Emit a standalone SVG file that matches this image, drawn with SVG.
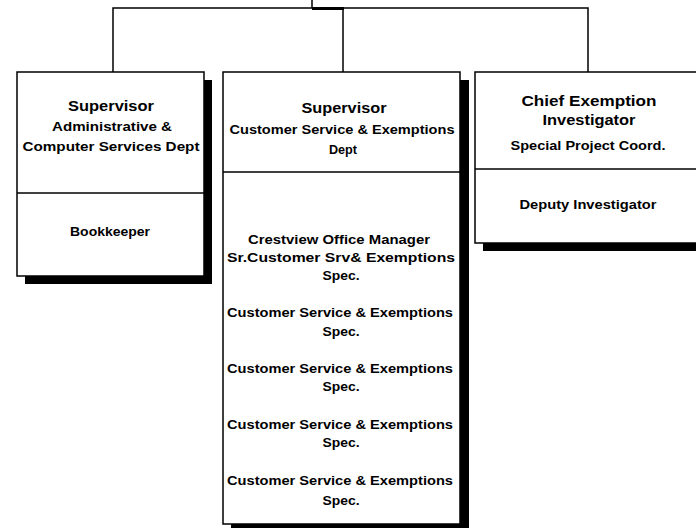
<svg xmlns="http://www.w3.org/2000/svg" width="696" height="528" viewBox="0 0 696 528">
<style>
.box{fill:#fff;stroke:#000;stroke-width:1.5}
.sh{fill:#000}
.div{stroke:#000;stroke-width:1.5}
.con{stroke:#000;stroke-width:1.5;fill:none}
.h{font-family:"Liberation Sans",Arial,sans-serif;font-weight:bold;font-size:15px;text-anchor:middle;fill:#000}
.t{font-family:"Liberation Sans",Arial,sans-serif;font-weight:bold;font-size:12px;text-anchor:middle;fill:#000}
</style>
<rect width="696" height="528" fill="#fff"/>
<g id="connectors">
<path class="con" d="M312 0V8M113 72V8H588V72M343 8V72"/>
<rect x="312" y="7" width="32" height="3" fill="#000"/>
</g>
<g id="left">
<rect class="sh" x="204" y="80" width="8" height="204"/>
<rect class="sh" x="25" y="276" width="187" height="8"/>
<rect class="box" x="17" y="72" width="187" height="204"/>
<line class="div" x1="17" y1="193" x2="204" y2="193"/>
<text class="h" x="111" y="111" textLength="86" lengthAdjust="spacingAndGlyphs">Supervisor</text>
<text class="t" x="112" y="131" textLength="120" lengthAdjust="spacingAndGlyphs">Administrative &amp;</text>
<text class="t" x="111" y="151" textLength="177" lengthAdjust="spacingAndGlyphs">Computer Services Dept</text>
<text class="t" x="110" y="236" textLength="80" lengthAdjust="spacingAndGlyphs">Bookkeeper</text>
</g>
<g id="middle">
<rect class="sh" x="460" y="80" width="9" height="452"/>
<rect class="sh" x="231" y="524" width="238" height="8"/>
<rect class="box" x="223" y="72" width="237" height="452"/>
<line class="div" x1="223" y1="172" x2="460" y2="172"/>
<text class="h" x="344" y="113" textLength="85" lengthAdjust="spacingAndGlyphs">Supervisor</text>
<text class="t" x="342" y="134" textLength="225" lengthAdjust="spacingAndGlyphs">Customer Service &amp; Exemptions</text>
<text class="t" x="343" y="154" textLength="28" lengthAdjust="spacingAndGlyphs">Dept</text>
<text class="t" x="339" y="244" textLength="182" lengthAdjust="spacingAndGlyphs">Crestview Office Manager</text>
<text class="t" x="341" y="262" textLength="228" lengthAdjust="spacingAndGlyphs">Sr.Customer Srv&amp; Exemptions</text>
<text class="t" x="341" y="280" textLength="37" lengthAdjust="spacingAndGlyphs">Spec.</text>
<text class="t" x="340" y="317" textLength="226" lengthAdjust="spacingAndGlyphs">Customer Service &amp; Exemptions</text>
<text class="t" x="341" y="336" textLength="37" lengthAdjust="spacingAndGlyphs">Spec.</text>
<text class="t" x="340" y="373" textLength="226" lengthAdjust="spacingAndGlyphs">Customer Service &amp; Exemptions</text>
<text class="t" x="341" y="391" textLength="37" lengthAdjust="spacingAndGlyphs">Spec.</text>
<text class="t" x="340" y="429" textLength="226" lengthAdjust="spacingAndGlyphs">Customer Service &amp; Exemptions</text>
<text class="t" x="341" y="447" textLength="37" lengthAdjust="spacingAndGlyphs">Spec.</text>
<text class="t" x="340" y="485" textLength="226" lengthAdjust="spacingAndGlyphs">Customer Service &amp; Exemptions</text>
<text class="t" x="341" y="505" textLength="37" lengthAdjust="spacingAndGlyphs">Spec.</text>
</g>
<g id="right">
<rect class="sh" x="483" y="243" width="220" height="8"/>
<rect class="box" x="475" y="72" width="227" height="171"/>
<line class="div" x1="475" y1="169" x2="702" y2="169"/>
<text class="h" x="589" y="106" textLength="135" lengthAdjust="spacingAndGlyphs">Chief Exemption</text>
<text class="h" x="589" y="125" textLength="93" lengthAdjust="spacingAndGlyphs">Investigator</text>
<text class="t" x="588" y="150" textLength="155" lengthAdjust="spacingAndGlyphs">Special Project Coord.</text>
<text class="t" x="588" y="209" textLength="137" lengthAdjust="spacingAndGlyphs">Deputy Investigator</text>
</g>
</svg>
